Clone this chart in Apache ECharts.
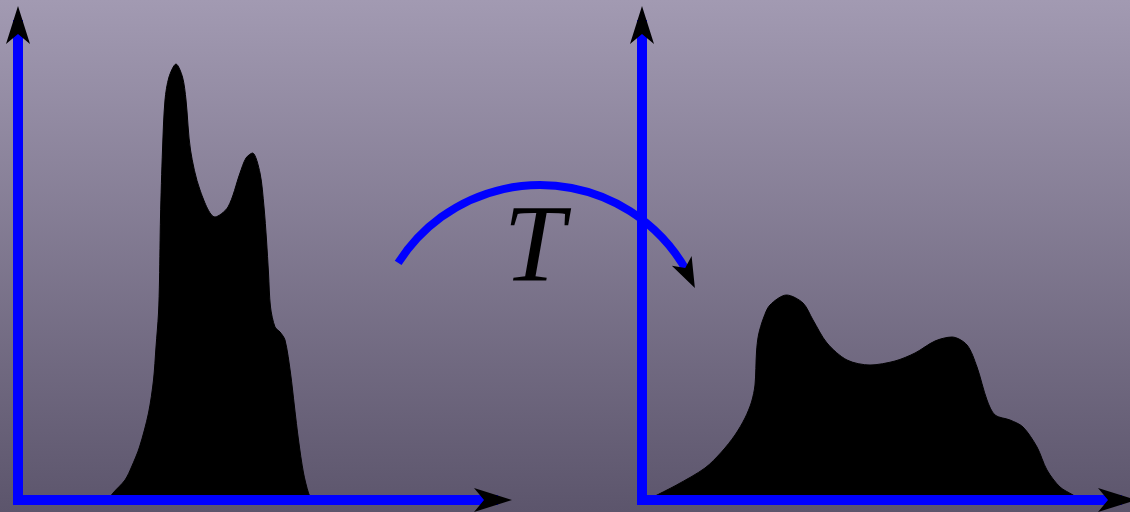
<!DOCTYPE html>
<html>
<head>
<meta charset="utf-8">
<script src="https://cdn.jsdelivr.net/npm/echarts@6/dist/echarts.min.js"></script>
<style>
  html, body { margin: 0; padding: 0; }
  #chart { width: 1130px; height: 512px; }
</style>
</head>
<body>
<div id="chart"></div>
<script>
// histogram before the transform (intensity, count)
const beforeX = [18, 19, 21.4, 22.7, 24.3, 26.1, 27.1, 27.6, 28.1, 28.3, 28.5, 28.9, 29.4, 30.2, 31.6, 32.9, 33.6, 34.5, 36.4, 39.4, 42, 44.4, 45.6, 46.9, 48.4, 49.2, 49.7, 50.1, 50.5, 51.4, 52.4, 53.4, 54.5, 55.3, 56.1, 57.1, 58.1, 58.8];
const beforeY = [0, 1.4, 4, 6.6, 10.6, 17.4, 24, 30.6, 37.4, 44, 56.6, 70, 80, 84.6, 87.2, 84.6, 80, 70, 62, 56.6, 58.6, 65.4, 68.4, 69.4, 65.4, 58.6, 52, 45.4, 38.6, 34.6, 33.6, 32, 25.4, 18.6, 12, 5.4, 1.4, 0];

// histogram after the transform T
const afterX = [1, 6.9, 12.6, 15.9, 18.6, 20.6, 21.9, 22.6, 22.9, 23.3, 24.3, 25.6, 28.9, 32.2, 34.2, 37, 41, 45.6, 50.6, 54.6, 58.6, 62, 65, 67, 69, 70.6, 73.6, 76.2, 79, 81, 83.6, 86.2, 87.6];
const afterY = [0, 3, 6.4, 9.6, 13, 16.4, 19.6, 23, 29.6, 33, 36.4, 39, 41, 39.4, 36, 31.4, 28, 27, 27.8, 29.4, 31.8, 32.6, 31, 26.6, 20, 17, 16, 14.6, 10.6, 6, 2.6, 1, 0];

const axisMax = 95;
const blue = '#0000ff';
// stealth arrow head pointing up
const arrowPath = 'path://M12,0 L24,38 L12,28 L0,38 Z';

const zip = (xs, ys) => xs.map((x, i) => [x, ys[i]]);

const chart = echarts.init(document.getElementById('chart'));

const axisCommon = {
  type: 'value',
  min: 0,
  max: axisMax,
  z: 5,
  axisLine: { show: true, lineStyle: { color: blue, width: 10, cap: 'square' } },
  axisTick: { show: false },
  axisLabel: { show: false },
  splitLine: { show: false }
};

function histSeries(idx, data) {
  return {
    type: 'line',
    xAxisIndex: idx,
    yAxisIndex: idx,
    data: data,
    smooth: 0.3,
    showSymbol: false,
    silent: true,
    lineStyle: { color: '#000', width: 1 },
    areaStyle: { color: '#000', opacity: 1 },
    z: 2
  };
}

function arrowSeries(idx, point, rotate) {
  return {
    type: 'scatter',
    xAxisIndex: idx,
    yAxisIndex: idx,
    data: [point],
    symbol: arrowPath,
    symbolSize: [24, 38],
    symbolRotate: rotate,
    clip: false,
    silent: true,
    itemStyle: { color: '#000', opacity: 1 },
    z: 10
  };
}

// the T arrow: circular arc with an arrow head at its end
const arcC = [540, 353];
const arcR = 168;
const deg = Math.PI / 180;
const tipAng = -22.8 * deg;
const tip = [arcC[0] + arcR * Math.cos(tipAng), arcC[1] + arcR * Math.sin(tipAng)];
const dirAng = -26 * deg;
const d = [-Math.sin(dirAng), Math.cos(dirAng)];
const n = [-d[1], d[0]];
const headLen = 30, headHalf = 11, notch = 22;
const headPts = [
  tip,
  [tip[0] - headLen * d[0] + headHalf * n[0], tip[1] - headLen * d[1] + headHalf * n[1]],
  [tip[0] - notch * d[0], tip[1] - notch * d[1]],
  [tip[0] - headLen * d[0] - headHalf * n[0], tip[1] - headLen * d[1] - headHalf * n[1]]
];

const option = {
  animation: false,
  backgroundColor: {
    type: 'linear', x: 0, y: 0, x2: 0, y2: 1,
    colorStops: [
      { offset: 0, color: '#a29ab2' },
      { offset: 1, color: '#5c556c' }
    ]
  },
  grid: [
    { left: 18, top: 25, width: 475, height: 475 },
    { left: 642, top: 25, width: 475, height: 475 }
  ],
  xAxis: [
    Object.assign({ gridIndex: 0 }, axisCommon),
    Object.assign({ gridIndex: 1 }, axisCommon)
  ],
  yAxis: [
    Object.assign({ gridIndex: 0 }, axisCommon),
    Object.assign({ gridIndex: 1 }, axisCommon)
  ],
  series: [
    histSeries(0, zip(beforeX, beforeY)),
    histSeries(1, zip(afterX, afterY)),
    arrowSeries(0, [0, axisMax], 0),
    arrowSeries(0, [axisMax, 0], -90),
    arrowSeries(1, [0, axisMax], 0),
    arrowSeries(1, [axisMax, 0], -90)
  ],
  graphic: [
    {
      type: 'arc',
      z: 20,
      shape: { cx: arcC[0], cy: arcC[1], r: arcR, startAngle: -147.6 * deg, endAngle: -29 * deg, clockwise: true },
      style: { stroke: blue, lineWidth: 8, fill: null }
    },
    {
      type: 'polygon',
      z: 21,
      shape: { points: headPts },
      style: { fill: '#000' }
    },
    {
      type: 'text',
      z: 21,
      x: 534,
      y: 307,
      style: {
        text: 'T',
        font: 'italic 110px "Liberation Serif"',
        fill: '#000',
        textAlign: 'center',
        textVerticalAlign: 'bottom'
      }
    }
  ]
};

chart.setOption(option);
window.addEventListener('resize', () => chart.resize());
</script>
</body>
</html>
